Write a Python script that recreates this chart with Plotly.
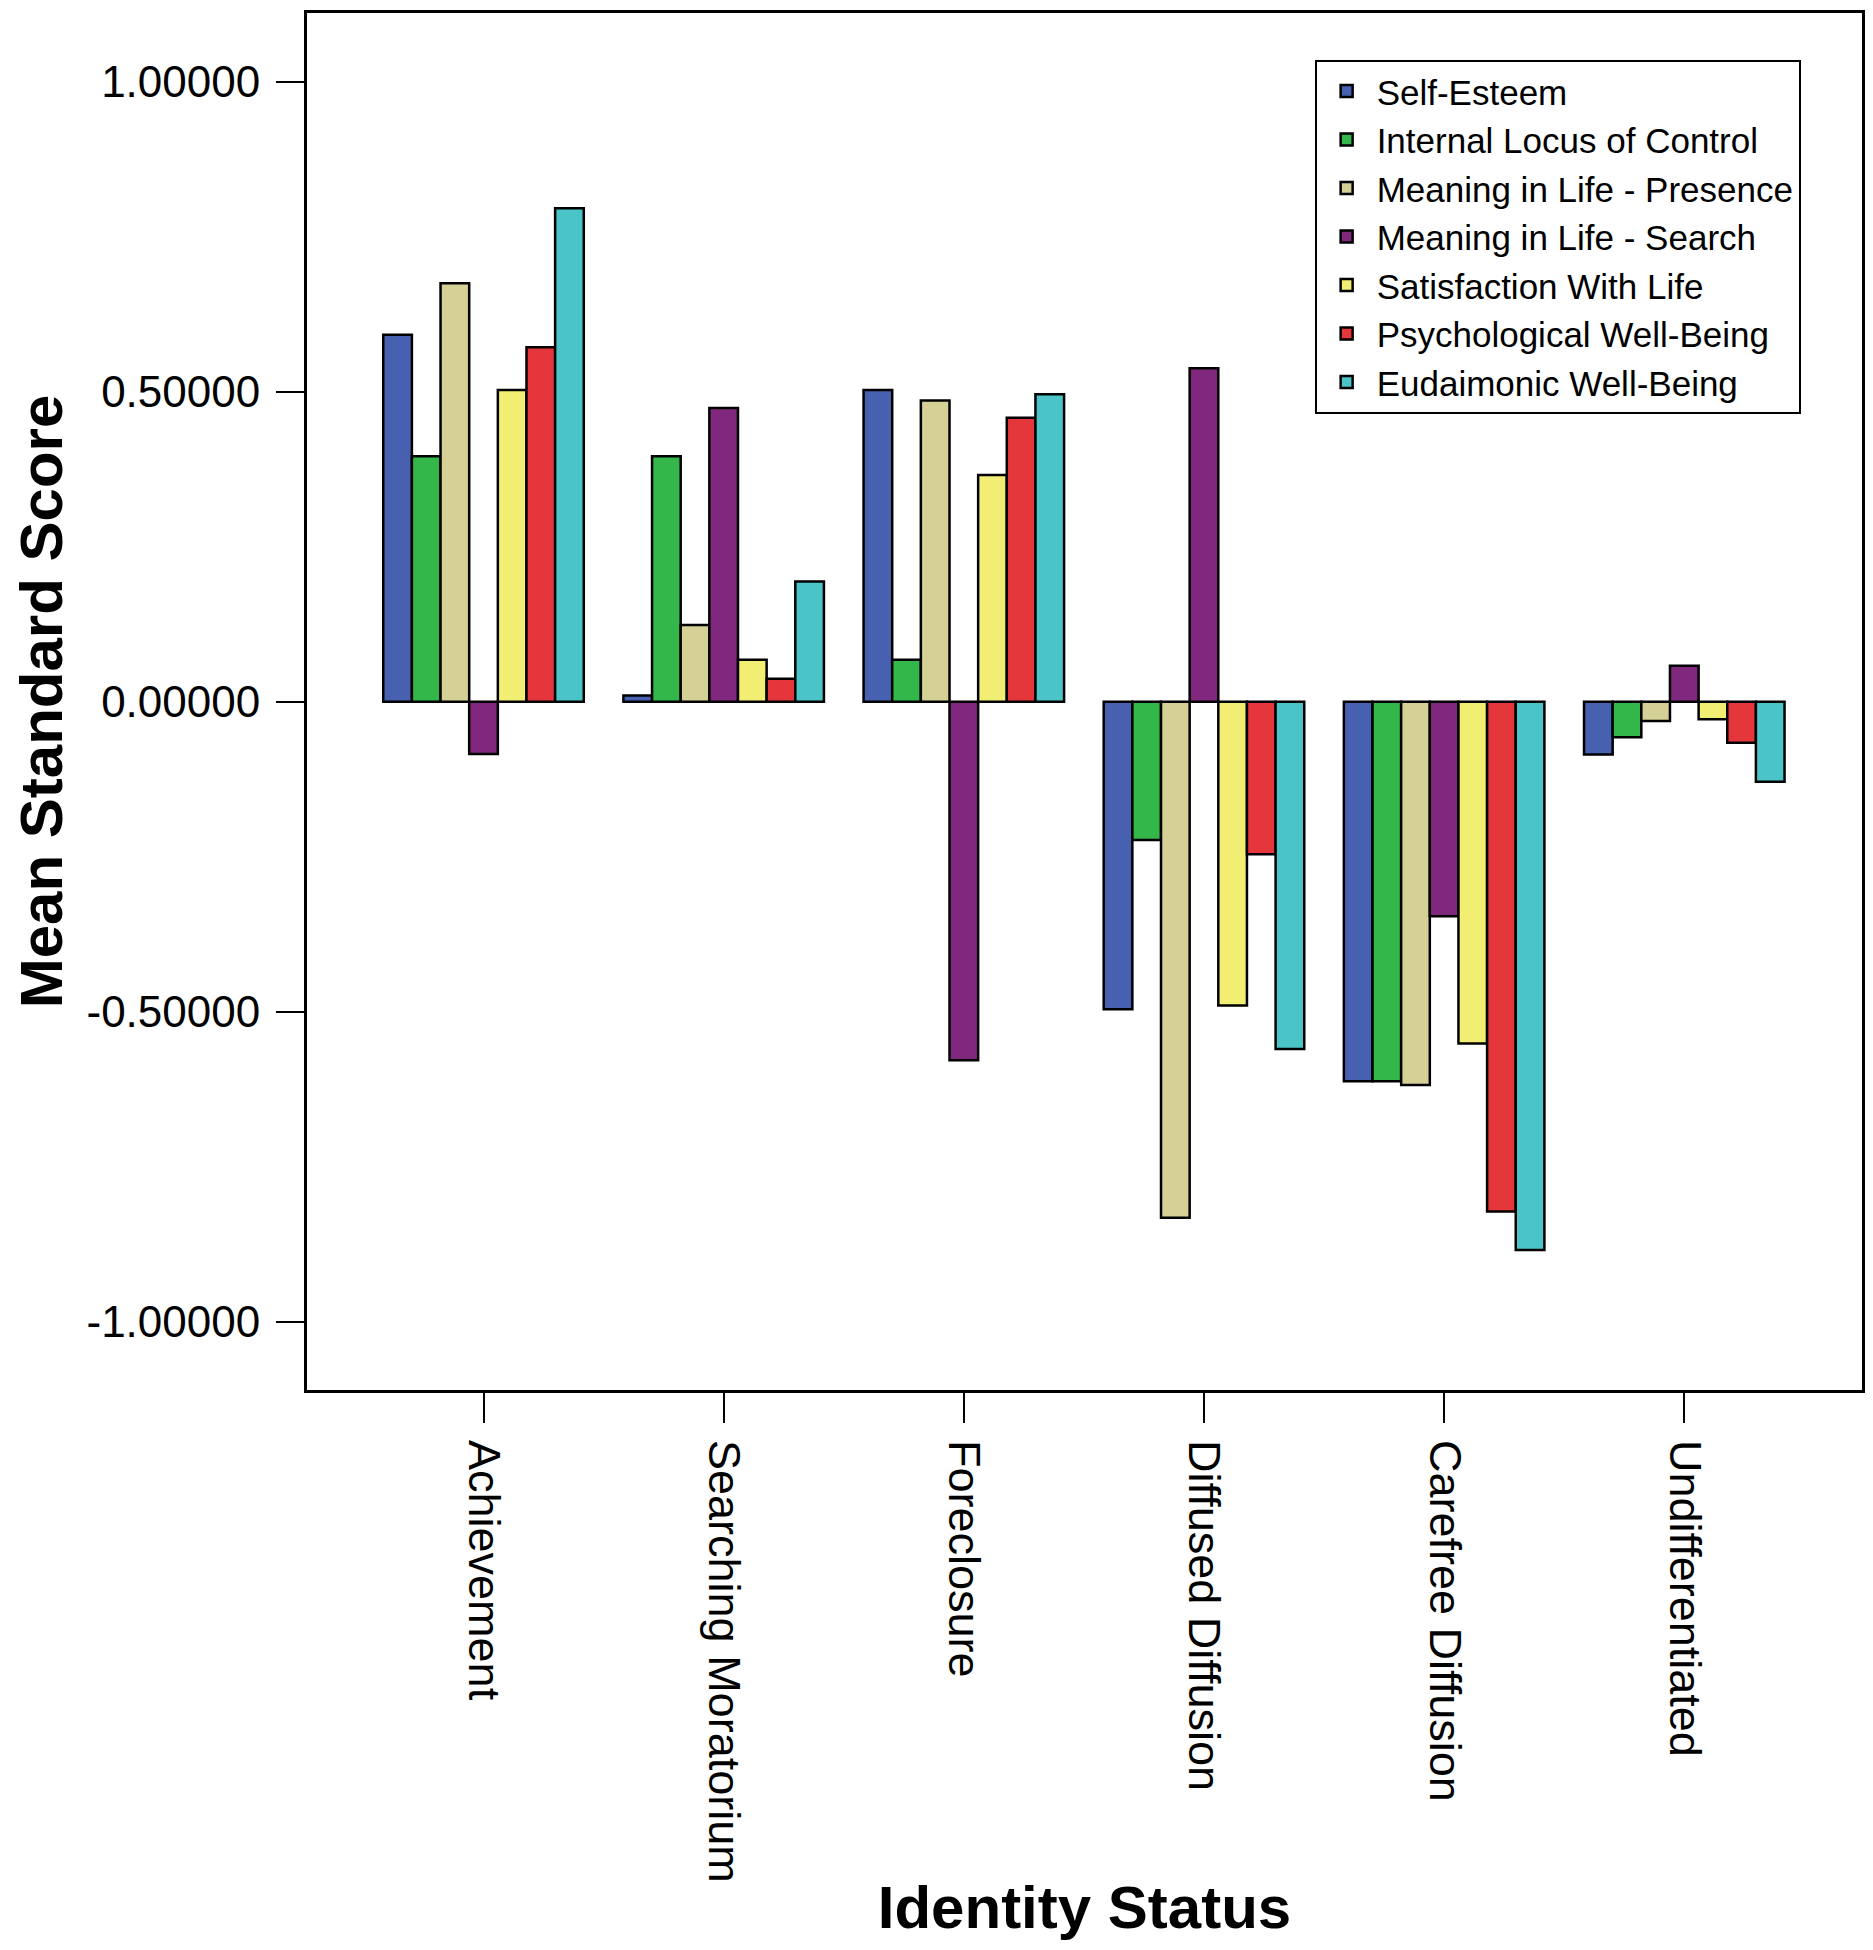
import plotly.graph_objects as go

categories = ["Achievement", "Searching Moratorium", "Foreclosure",
              "Diffused Diffusion", "Carefree Diffusion", "Undifferentiated"]

self_esteem = [0.592, 0.010, 0.503, -0.496, -0.612, -0.085]
internal_locus = [0.396, 0.396, 0.068, -0.223, -0.612, -0.057]
meaning_presence = [0.675, 0.124, 0.486, -0.832, -0.618, -0.031]
meaning_search = [-0.084, 0.474, -0.578, 0.538, -0.346, 0.058]
satisfaction_life = [0.503, 0.068, 0.366, -0.490, -0.551, -0.028]
psych_wellbeing = [0.572, 0.037, 0.458, -0.246, -0.822, -0.066]
eudaimonic_wellbeing = [0.796, 0.194, 0.496, -0.560, -0.884, -0.129]

series_names = ["Self-Esteem", "Internal Locus of Control", "Meaning in Life - Presence",
                "Meaning in Life - Search", "Satisfaction With Life",
                "Psychological Well-Being", "Eudaimonic Well-Being"]
series_values = [self_esteem, internal_locus, meaning_presence, meaning_search,
                 satisfaction_life, psych_wellbeing, eudaimonic_wellbeing]
series_colors = ["#4860B0", "#34B74A", "#D5D096", "#7F287E", "#F2EE74", "#E5363B", "#4BC4C8"]

y_tickvals = [-1.0, -0.5, 0.0, 0.5, 1.0]
y_ticktext = ["-1.00000", "-0.50000", "0.00000", "0.50000", "1.00000"]

fig = go.Figure()
for name, vals, col in zip(series_names, series_values, series_colors):
    fig.add_trace(go.Bar(
        x=categories, y=vals, name=name,
        marker=dict(color=col, line=dict(color="black", width=2.5)),
    ))

font_family = "Liberation Sans, Arial, Helvetica, sans-serif"

fig.update_layout(
    width=1873, height=1950,
    margin=dict(l=299, r=19, t=2, b=568),
    paper_bgcolor="white", plot_bgcolor="white",
    barmode="group", bargap=0.165, bargroupgap=0,
    font=dict(family=font_family, color="black"),
    showlegend=True,
    legend=dict(
        x=0.648, y=0.966, xanchor="left", yanchor="top",
        bgcolor="white", bordercolor="black", borderwidth=2,
        font=dict(size=35, family=font_family, color="black"),
        tracegroupgap=0, itemwidth=50,
    ),
    xaxis=dict(
        type="category", range=[-0.735, 5.74],
        showline=True, linecolor="black", linewidth=3, mirror=True,
        ticks="outside", ticklen=30, tickwidth=2, tickcolor="black",
        tickangle=90, tickfont=dict(size=45, family=font_family),
        ticklabelstandoff=8,
        showgrid=False, zeroline=False,
        title=dict(text="<b>Identity Status</b>", font=dict(size=60, family=font_family), standoff=5),
    ),
    yaxis=dict(
        range=[-1.11, 1.111],
        tickvals=y_tickvals, ticktext=y_ticktext,
        showline=True, linecolor="black", linewidth=3, mirror=True,
        ticks="outside", ticklen=28, tickwidth=2, tickcolor="black",
        tickfont=dict(size=44, family=font_family),
        ticklabelstandoff=7,
        showgrid=False, zeroline=False,
        title=dict(text="<b>Mean Standard Score</b>", font=dict(size=60, family=font_family), standoff=30),
    ),
)

fig.write_html("out.html")
